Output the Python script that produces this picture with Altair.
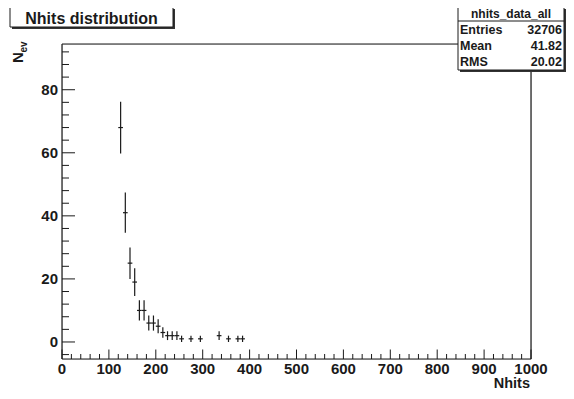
import altair as alt
import pandas as pd

# ---- data ----
nhits = [125, 135, 145, 155, 165, 175, 185, 195, 205, 215, 225, 235, 245, 255, 275, 295, 335, 355, 375, 385]
counts = [68, 41, 25, 19, 10, 10, 6, 6, 5, 3, 2, 2, 2, 1, 1, 1, 2, 1, 1, 1]
errors = [8.2, 6.4, 5.0, 4.4, 3.2, 3.2, 2.4, 2.4, 2.2, 1.7, 1.4, 1.4, 1.4, 1.0, 1.0, 1.0, 1.4, 1.0, 1.0, 1.0]
bin_half = 5

x_major = [0, 100, 200, 300, 400, 500, 600, 700, 800, 900, 1000]
y_major = [0, 20, 40, 60, 80]
x_minor = [v for v in range(0, 1001, 20) if v % 100]
y_minor = [v for v in range(-4, 95, 4) if v % 20]

stats_title = "nhits_data_all"
stats_names = ["Entries", "Mean", "RMS"]
stats_values = ["32706", "41.82", "20.02"]
title_text = "Nhits distribution"
x_title = "Nhits"

FONT = "Liberation Sans"
W, H = 469, 315
XD = [0, 1000]
YD = [-5.4, 94.5]
INK = "#1a1a1a"

df = pd.DataFrame({"x": nhits, "y": counts, "e": errors})
df["lo"] = df["y"] - df["e"]
df["hi"] = df["y"] + df["e"]
df["xl"] = df["x"] - bin_half
df["xr"] = df["x"] + bin_half

xs = alt.Scale(domain=XD, nice=False, zero=False)
ys = alt.Scale(domain=YD, nice=False, zero=False)

vbars = alt.Chart(df).mark_rule(color=INK, strokeWidth=1.2).encode(
    x=alt.X("x:Q", scale=xs, axis=None),
    y=alt.Y("lo:Q", scale=ys, axis=None),
    y2="hi:Q",
)
hbars = alt.Chart(df).mark_rule(color=INK, strokeWidth=1.2).encode(
    x=alt.X("xl:Q", scale=xs, axis=None),
    x2="xr:Q",
    y=alt.Y("y:Q", scale=ys, axis=None),
)

def xticks(vals, length):
    return alt.Chart(pd.DataFrame({"v": vals})).mark_rule(color=INK, strokeWidth=1).encode(
        x=alt.X("v:Q", scale=xs, axis=None), y=alt.value(H), y2=alt.value(H - length))

def yticks(vals, length):
    return alt.Chart(pd.DataFrame({"v": vals})).mark_rule(color=INK, strokeWidth=1).encode(
        y=alt.Y("v:Q", scale=ys, axis=None), x=alt.value(0), x2=alt.value(length))

xlabels = alt.Chart(pd.DataFrame({"v": x_major, "t": [str(v) for v in x_major]})).mark_text(
    font=FONT, fontWeight="bold", fontSize=15, align="center", baseline="alphabetic", color=INK
).encode(x=alt.X("v:Q", scale=xs, axis=None), y=alt.value(H + 14.5), text="t:N")

ylabels = alt.Chart(pd.DataFrame({"v": y_major, "t": [str(v) for v in y_major]})).mark_text(
    font=FONT, fontWeight="bold", fontSize=15, align="right", baseline="middle", color=INK, dx=-4
).encode(y=alt.Y("v:Q", scale=ys, axis=None), x=alt.value(0), text="t:N")

one = pd.DataFrame({"a": [0]})

def box(x1, x2, y1, y2, fill, stroke=None):
    kw = dict(fill=fill)
    if stroke:
        kw.update(stroke=stroke, strokeWidth=1)
    return alt.Chart(one).mark_rect(**kw).encode(
        x=alt.value(x1), x2=alt.value(x2), y=alt.value(y1), y2=alt.value(y2))

def line(x1, x2, y1, y2, w=1.2):
    return alt.Chart(one).mark_rule(color=INK, strokeWidth=w).encode(
        x=alt.value(x1), x2=alt.value(x2), y=alt.value(y1), y2=alt.value(y2))

def txt(t, x, y, size, align="left", angle=0):
    return alt.Chart(one).mark_text(text=t, font=FONT, fontWeight="bold", fontSize=size,
                                    align=align, baseline="alphabetic", angle=angle,
                                    color=INK).encode(x=alt.value(x), y=alt.value(y))

layers = [
    # frame
    line(0, W, 0, 0), line(0, W, H, H), line(0, 0, 0, H), line(W, W, 0, H),
    xticks(x_major, 9.5), xticks(x_minor, 5),
    yticks(y_major, 13), yticks(y_minor, 7),
    xlabels, ylabels,
    vbars, hbars,
    # title box
    box(-50, 113, -35, -15, "#333333"),
    box(-52, 111, -37, -17, "white", INK),
    txt(title_text, 29.5, -20.5, 16, align="center"),
    # stats box
    box(398, 504, -35, 28, "#333333"),
    box(396, 502, -37, 26, "white", INK),
    line(396, 502, -23, -23, 1),
    txt(stats_title, 449, -26.5, 12, align="center"),
]
rows_y = [-10, 6, 22]
for name, val, yy in zip(stats_names, stats_values, rows_y):
    layers.append(txt(name, 398, yy, 12.5))
    layers.append(txt(val, 500, yy, 12.5, align="right"))

layers += [
    txt(x_title, 468, 344, 14.5, align="right"),
    txt("N", -39, 19, 15, angle=270),
    txt("ev", -35, 8.5, 10, angle=270),
]

chart = alt.layer(*layers).properties(
    width=W, height=H,
    autosize=alt.AutoSizeParams(type="none"),
    padding={"left": 54, "top": 36, "right": 35, "bottom": 32},
).configure_view(stroke=None).configure(background="white")

chart.save("out.html", embed_options={"renderer": "svg", "actions": False})
